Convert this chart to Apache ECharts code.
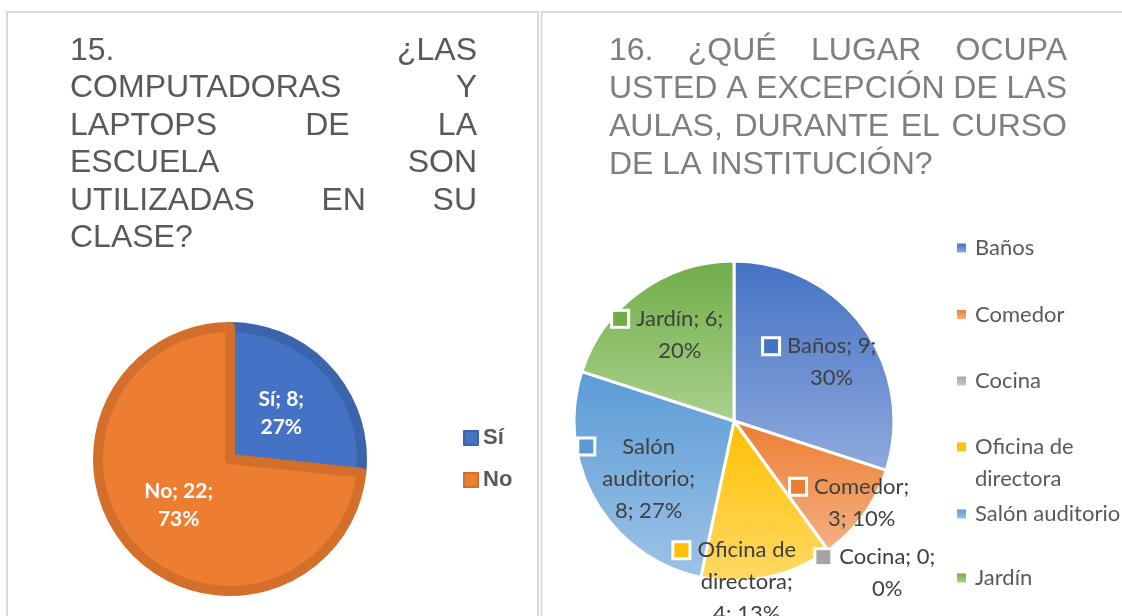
<!DOCTYPE html>
<html>
<head>
<meta charset="utf-8">
<script src="https://cdn.jsdelivr.net/npm/echarts@6/dist/echarts.min.js"></script>
<style>
  html, body { margin: 0; padding: 0; background: #fff; }
  #main { width: 1122px; height: 616px; }
</style>
</head>
<body>
<div id="main"></div>
<script>
// ---------- 数据 ----------
const q15Names = ['Sí', 'No'];
const q15Values = [8, 22];

const q16Names = ['Baños', 'Comedor', 'Cocina', 'Oficina de directora', 'Salón auditorio', 'Jardín'];
const q16Values = [9, 3, 0, 4, 8, 6];

// 标题按行拆词（两端对齐）
const q15TitleLines = [
  ['15.', '¿LAS'],
  ['COMPUTADORAS', 'Y'],
  ['LAPTOPS', 'DE', 'LA'],
  ['ESCUELA', 'SON'],
  ['UTILIZADAS', 'EN', 'SU'],
  ['CLASE?']
];
const q16TitleLines = [
  ['16.', '¿QUÉ', 'LUGAR', 'OCUPA'],
  ['USTED', 'A', 'EXCEPCIÓN', 'DE', 'LAS'],
  ['AULAS,', 'DURANTE', 'EL', 'CURSO'],
  ['DE', 'LA', 'INSTITUCIÓN?']
];

// 标签换行模板
const q16LabelLines = {
  'Baños': ['{n}; {v};', '{p}'],
  'Comedor': ['{n};', '{v}; {p}'],
  'Cocina': ['{n}; {v};', '{p}'],
  'Oficina de directora': ['Oficina de', 'directora;', '{v}; {p}'],
  'Salón auditorio': ['Salón', 'auditorio;', '{v}; {p}'],
  'Jardín': ['{n}; {v};', '{p}']
};
const q16LegendText = { 'Oficina de directora': 'Oficina de\ndirectora' };

// ---------- 样式 ----------
const q15Colors = ['#4472C4', '#ED7D31'];
const q15Borders = ['#3B64AD', '#D46F2B'];
const q16Top = ['#4472C4', '#ED7D31', '#A5A5A5', '#FFC000', '#5B9BD5', '#70AD47'];
const q16Bottom = ['#8FAADC', '#F4B183', '#C9C9C9', '#FFD966', '#9DC3E6', '#A9D18E'];
// 标签相对默认 inside 位置的偏移
const q16LabelShift = [[19, -10], [49, 33], [93, 85], [-16, 80], [-25, 16], [-17, -19]];

const TITLE_FONT = '"Liberation Sans", Arial, sans-serif';
const LABEL_FONT = 'Lato, "Open Sans", sans-serif';

// ---------- 两端对齐标题 ----------
function justifyTitle(lines, x0, x1, y0, lh, size, color) {
  const ctx = document.createElement('canvas').getContext('2d');
  const font = size + 'px ' + TITLE_FONT;
  ctx.font = font;
  const els = [];
  lines.forEach((words, i) => {
    const y = y0 + i * lh;
    if (i === lines.length - 1 || words.length < 2) {
      els.push({ type: 'text', x: x0, y: y, silent: true,
        style: { text: words.join(' '), font: font, fill: color, align: 'left', verticalAlign: 'middle' } });
      return;
    }
    const ws = words.map(w => ctx.measureText(w).width);
    const gap = (x1 - x0 - ws.reduce((a, b) => a + b, 0)) / (words.length - 1);
    let x = x0;
    words.forEach((w, j) => {
      els.push({ type: 'text', x: x, y: y, silent: true,
        style: { text: w, font: font, fill: color, align: 'left', verticalAlign: 'middle' } });
      x += ws[j] + gap;
    });
  });
  return els;
}

// ---------- 饼图数据 ----------
const q15Data = q15Names.map((n, i) => ({
  name: n, value: q15Values[i],
  itemStyle: { color: q15Colors[i], borderColor: q15Borders[i] }
}));

const q16Data = q16Names.map((n, i) => ({
  name: n, value: q16Values[i],
  itemStyle: {
    color: new echarts.graphic.LinearGradient(0, 0, 0, 1, [
      { offset: 0, color: q16Top[i] },
      { offset: 1, color: q16Bottom[i] }
    ])
  }
}));

const q16Rich = {
  g: { width: 9, align: 'left' },
  s: { width: 23, align: 'left' },
  t: { fontFamily: LABEL_FONT, fontSize: 22, color: '#404040', lineHeight: 32, align: 'center' }
};
q16Top.forEach((c, i) => {
  q16Rich['m' + i] = { width: 14, height: 14, backgroundColor: c, borderColor: '#fff', borderWidth: 3, align: 'left' };
});

function q16Label(p) {
  const pct = Math.round(p.percent) + '%';
  return q16LabelLines[p.name].map((tpl, i) => {
    const s = tpl.replace('{n}', p.name).replace('{v}', p.value).replace('{p}', pct);
    return (i === 0 ? '{m' + p.dataIndex + '|}{g|}' : '{s|}') + '{t|' + s + '}';
  }).join('\n');
}

// 右侧图例：分三段，保证每项间距一致；两行的那项把色块放到第一行
function q16Legend(names, top, gap, tall) {
  return {
    data: names, orient: 'vertical', left: 957, top: top, padding: 0,
    icon: tall ? 'path://M0,0h9v9h-9z M0,41h9v0h-9z' : 'rect',
    itemWidth: 9, itemHeight: tall ? 41 : 9, itemGap: gap, selectedMode: false,
    itemStyle: { borderWidth: 0 },
    formatter: n => q16LegendText[n] || n,
    textStyle: { fontFamily: LABEL_FONT, fontSize: 22, color: '#595959', lineHeight: 32,
      padding: [0, 0, 0, 4] }
  };
}

// ---------- 图表 ----------
const chart = echarts.init(document.getElementById('main'), null, { renderer: 'canvas' });

const option = {
  animation: false,
  backgroundColor: '#fff',
  graphic: [
    { type: 'rect', silent: true, z: -10, shape: { x: 7, y: 12, width: 531, height: 700 },
      style: { fill: 'none', stroke: '#DADADA', lineWidth: 2 } },
    { type: 'rect', silent: true, z: -10, shape: { x: 541.5, y: 12, width: 700, height: 700 },
      style: { fill: 'none', stroke: '#DADADA', lineWidth: 2 } }
  ].concat(
    justifyTitle(q15TitleLines, 70, 477, 51, 37.5, 32, '#595959'),
    justifyTitle(q16TitleLines, 609, 1067, 51, 38, 32, '#7F7F7F')
  ),
  legend: [
    {
      data: q15Names, orient: 'vertical', left: 463, top: 426, padding: 0,
      icon: 'rect', itemWidth: 14, itemHeight: 14, itemGap: 18, selectedMode: false,
      textStyle: { fontFamily: TITLE_FONT, fontWeight: 'bold', fontSize: 22, color: '#595959', lineHeight: 24 }
    },
    q16Legend(q16Names.slice(0, 3), 232, 34.5, false),
    q16Legend(q16Names.slice(3, 4), 431, 0, true),
    q16Legend(q16Names.slice(4), 498, 32, false)
  ],
  series: [
    {
      type: 'pie',
      center: [230, 459],
      radius: 132,
      startAngle: 90,
      clockwise: true,
      data: q15Data,
      itemStyle: { borderWidth: 10 },
      label: {
        show: true, position: 'inside',
        formatter: p => p.name + '; ' + p.value + ';\n' + Math.round(p.percent) + '%',
        fontFamily: LABEL_FONT, fontWeight: 'bold', fontSize: 21, color: '#fff', lineHeight: 28
      },
      labelLine: { show: false },
      emphasis: { disabled: true }
    },
    {
      type: 'pie',
      center: [734, 421],
      radius: 160,
      startAngle: 90,
      clockwise: true,
      data: q16Data,
      itemStyle: { borderWidth: 3, borderColor: '#fff' },
      label: {
        show: true, position: 'inside',
        formatter: q16Label,
        rich: q16Rich,
        lineHeight: 32,
        color: '#404040'
      },
      labelLine: { show: false },
      labelLayout: p => ({ dx: q16LabelShift[p.dataIndex][0], dy: q16LabelShift[p.dataIndex][1] }),
      emphasis: { disabled: true }
    }
  ]
};

chart.setOption(option);
</script>
</body>
</html>
